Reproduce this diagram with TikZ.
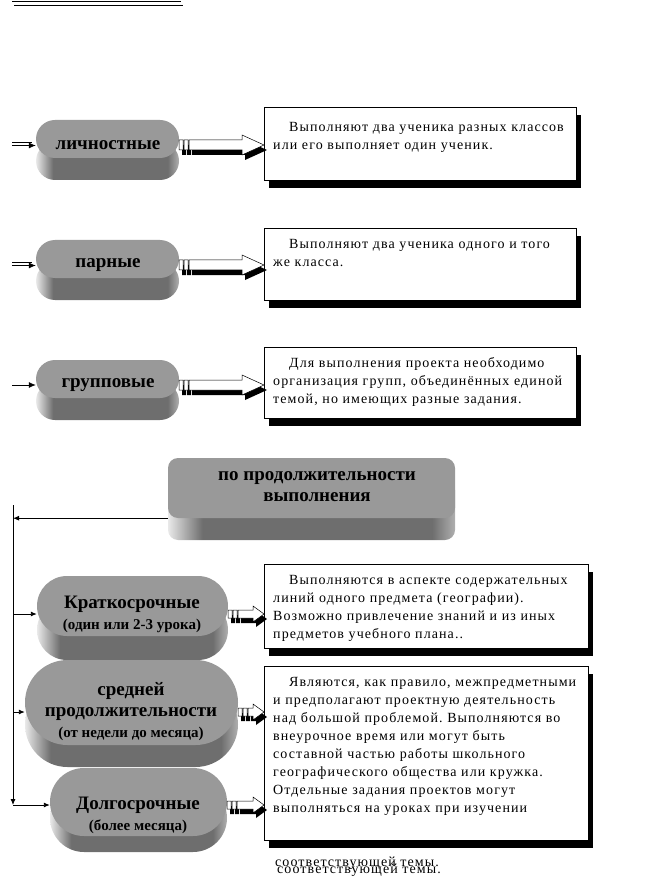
\documentclass[tikz,border=0pt]{standalone}
\usepackage{fontspec}
\setmainfont{Liberation Serif}
\newfontfamily\boxfont[LetterSpace=7.7]{Liberation Serif}
\usetikzlibrary{positioning,arrows.meta,calc,shapes.misc,shadows}
\definecolor{pillface}{HTML}{999999}
\definecolor{pillside}{HTML}{6E6E6E}
\pgfdeclarehorizontalshading{sideshade}{100bp}{color(0bp)=(pillside!15!white); color(25bp)=(pillside!15!white); color(31bp)=(pillside); color(71bp)=(pillside); color(75bp)=(pillside!55!white); color(100bp)=(pillside!55!white)}
\newcommand\pillfont{\fontsize{19}{21}\selectfont\bfseries}
\newcommand\subfont{\fontsize{15}{19}\selectfont\bfseries}
\frenchspacing

\begin{document}
\begin{tikzpicture}[x=1pt,y=-1pt,
  pill/.style={rounded rectangle,fill=pillface,inner sep=0pt,general shadow={shading=sideshade,shadow xshift=0pt,shadow yshift=-#1}},
  bigpill/.style={rectangle,rounded corners=10pt,fill=pillface,inner sep=0pt,general shadow={shading=sideshade,shadow xshift=0pt,shadow yshift=-22pt}},
  ptext/.style={align=center,font=\pillfont,inner sep=0pt},
  box/.style={draw,fill=white,anchor=north west,align=left,inner xsep=9pt,inner ysep=5pt,text height=15pt,font=\boxfont\fontsize{14}{18}\selectfont,general shadow={fill=black,shadow xshift=5pt,shadow yshift=-8pt},execute at begin node=\hspace*{16pt}},
  tail/.style={anchor=west,inner sep=0pt,font=\boxfont\fontsize{14}{18}\selectfont},
  inarr/.style={-{Latex[length=7pt,width=6pt]},line width=.8pt},
  flow/.style={-{Latex[length=6pt,width=5pt]},line width=.9pt},
  barrow/.style 2 args={draw,fill=white,line width=.5pt,general shadow={fill=black,shadow xshift=3pt,shadow yshift=-5pt},
    to path={let \p1=(\tikztostart),\p2=(\tikztotarget) in
      (\x1,\y1+#2pt) rectangle (\x1+4pt,\y1-#2pt)
      (\x1+5pt,\y1+#2pt) rectangle (\x1+9pt,\y1-#2pt)
      (\x1+10pt,\y1+#2pt) -- (\x2-#1pt,\y1+#2pt) -- (\x2-#1pt,\y1+2*#2pt) -- (\x2,\y1)
      -- (\x2-#1pt,\y1-2*#2pt) -- (\x2-#1pt,\y1-#2pt) -- (\x1+10pt,\y1-#2pt) -- cycle}}]
\useasboundingbox (0,0) rectangle (649,882);

\draw[line width=1.3pt] (12,1.5) -- (181,1.5);
\draw[line width=1.3pt] (14,5.5) -- (183,5.5);

% by number of pupils
\node[pill=22pt,minimum width=143pt,minimum height=38pt] (lich) at (107.5,139) {};
\node[ptext] (lich-t) at (108,145) {личностные};
\node[pill=22pt,minimum width=143pt,minimum height=38pt] (par) at (107.5,259) {};
\node[ptext] (par-t) at (108,265) {парные};
\node[pill=22pt,minimum width=143pt,minimum height=38pt] (grp) at (107.5,379) {};
\node[ptext] (grp-t) at (108,385) {групповые};

\node[box,text width=294pt,text height=19pt,text depth=44pt] (b-lich) at (264,107) {Выполняют два ученика разных классов\\или его выполняет один ученик.};
\node[box,text width=294pt,text depth=47pt] (b-par) at (264,228) {Выполняют два ученика одного и того\\же класса.};
\node[box,text width=294pt,text depth=46pt] (b-grp) at (264,347) {Для выполнения проекта необходимо\\организация групп, объединённых единой\\темой, но имеющих разные задания.};

\coordinate (in1) at (12,145.5);
\coordinate (in1b) at (12,142.5);
\coordinate (in2) at (12,265.5);
\coordinate (in2b) at (12,262.5);
\coordinate (in3) at (12,385);
\draw[inarr] (in1) -- (in1 -| lich.west);
\draw[line width=.8pt,shorten >=4pt] (in1b) -- (in1b -| lich.west);
\draw[inarr] (in2) -- (in2 -| par.west);
\draw[line width=.8pt,shorten >=4pt] (in2b) -- (in2b -| par.west);
\draw[inarr] (in3) -- (in3 -| grp.west);

\draw[barrow={22}{5}] (lich-t -| lich.east) to (lich-t -| b-lich.west);
\draw[barrow={22}{5}] (par-t -| par.east) to (par-t -| b-par.west);
\draw[barrow={22}{5}] (grp-t -| grp.east) to (grp-t -| b-grp.west);

% by duration
\node[bigpill,minimum width=287pt,minimum height=60pt] (dur) at (311.5,488) {};
\node[ptext] (dur-t) at (317,487) {по продолжительности\\выполнения};

\node[pill=24pt,minimum width=191pt,minimum height=60pt] (kr) at (132.5,606) {};
\node[ptext] (kr-t) at (132,614) {Краткосрочные\\{\subfont (один или 2-3 урока)}};
\node[pill=22pt,minimum width=213pt,minimum height=85pt] (srd) at (131.5,702.5) {};
\node[ptext] (srd-t) at (131,712) {средней\\продолжительности\\{\subfont (от недели до месяца)}};
\node[pill=16pt,minimum width=177pt,minimum height=68pt] (dol) at (138.5,802) {};
\node[ptext] (dol-t) at (138,815) {Долгосрочные\\{\subfont (более месяца)}};

\node[box,text width=306pt,text depth=59pt] (b-kr) at (264,564) {Выполняются в аспекте содержательных\\линий одного предмета (географии).\\Возможно привлечение знаний и из иных\\предметов учебного плана..};
\node[box,text width=306pt,text depth=149pt] (b-srd) at (264,666) {Являются, как правило, межпредметными\\и предполагают проектную деятельность\\над большой проблемой. Выполняются во\\внеурочное время или могут быть\\составной частью работы школьного\\географического общества или кружка.\\Отдельные задания проектов могут\\выполняться на уроках при изучении};
\node[tail] (tail-a) at (275,863) {соответствующей темы.};
\node[tail] (tail-b) at (277,870) {соответствующей темы.};

\coordinate (trunk) at (13,505);
\coordinate (trunk-end) at (13,805);
\draw[flow] (dur.south west) -- (dur.south west -| trunk);
\draw[flow] (trunk) -- (trunk-end);
\draw[flow] (kr-t -| trunk) -- (kr-t -| kr.west);
\draw[flow] (srd-t -| trunk) -- (srd-t -| srd.west);
\draw[flow] (trunk-end) -- (trunk-end -| dol.west);

\draw[barrow={11}{4}] (kr-t -| kr.east) to (kr-t -| b-kr.west);
\draw[barrow={11}{4}] (srd-t -| srd.east) to (srd-t -| b-srd.west);
\draw[barrow={11}{4}] (trunk-end -| dol.east) to (trunk-end -| b-srd.west);
\end{tikzpicture}
\end{document}
